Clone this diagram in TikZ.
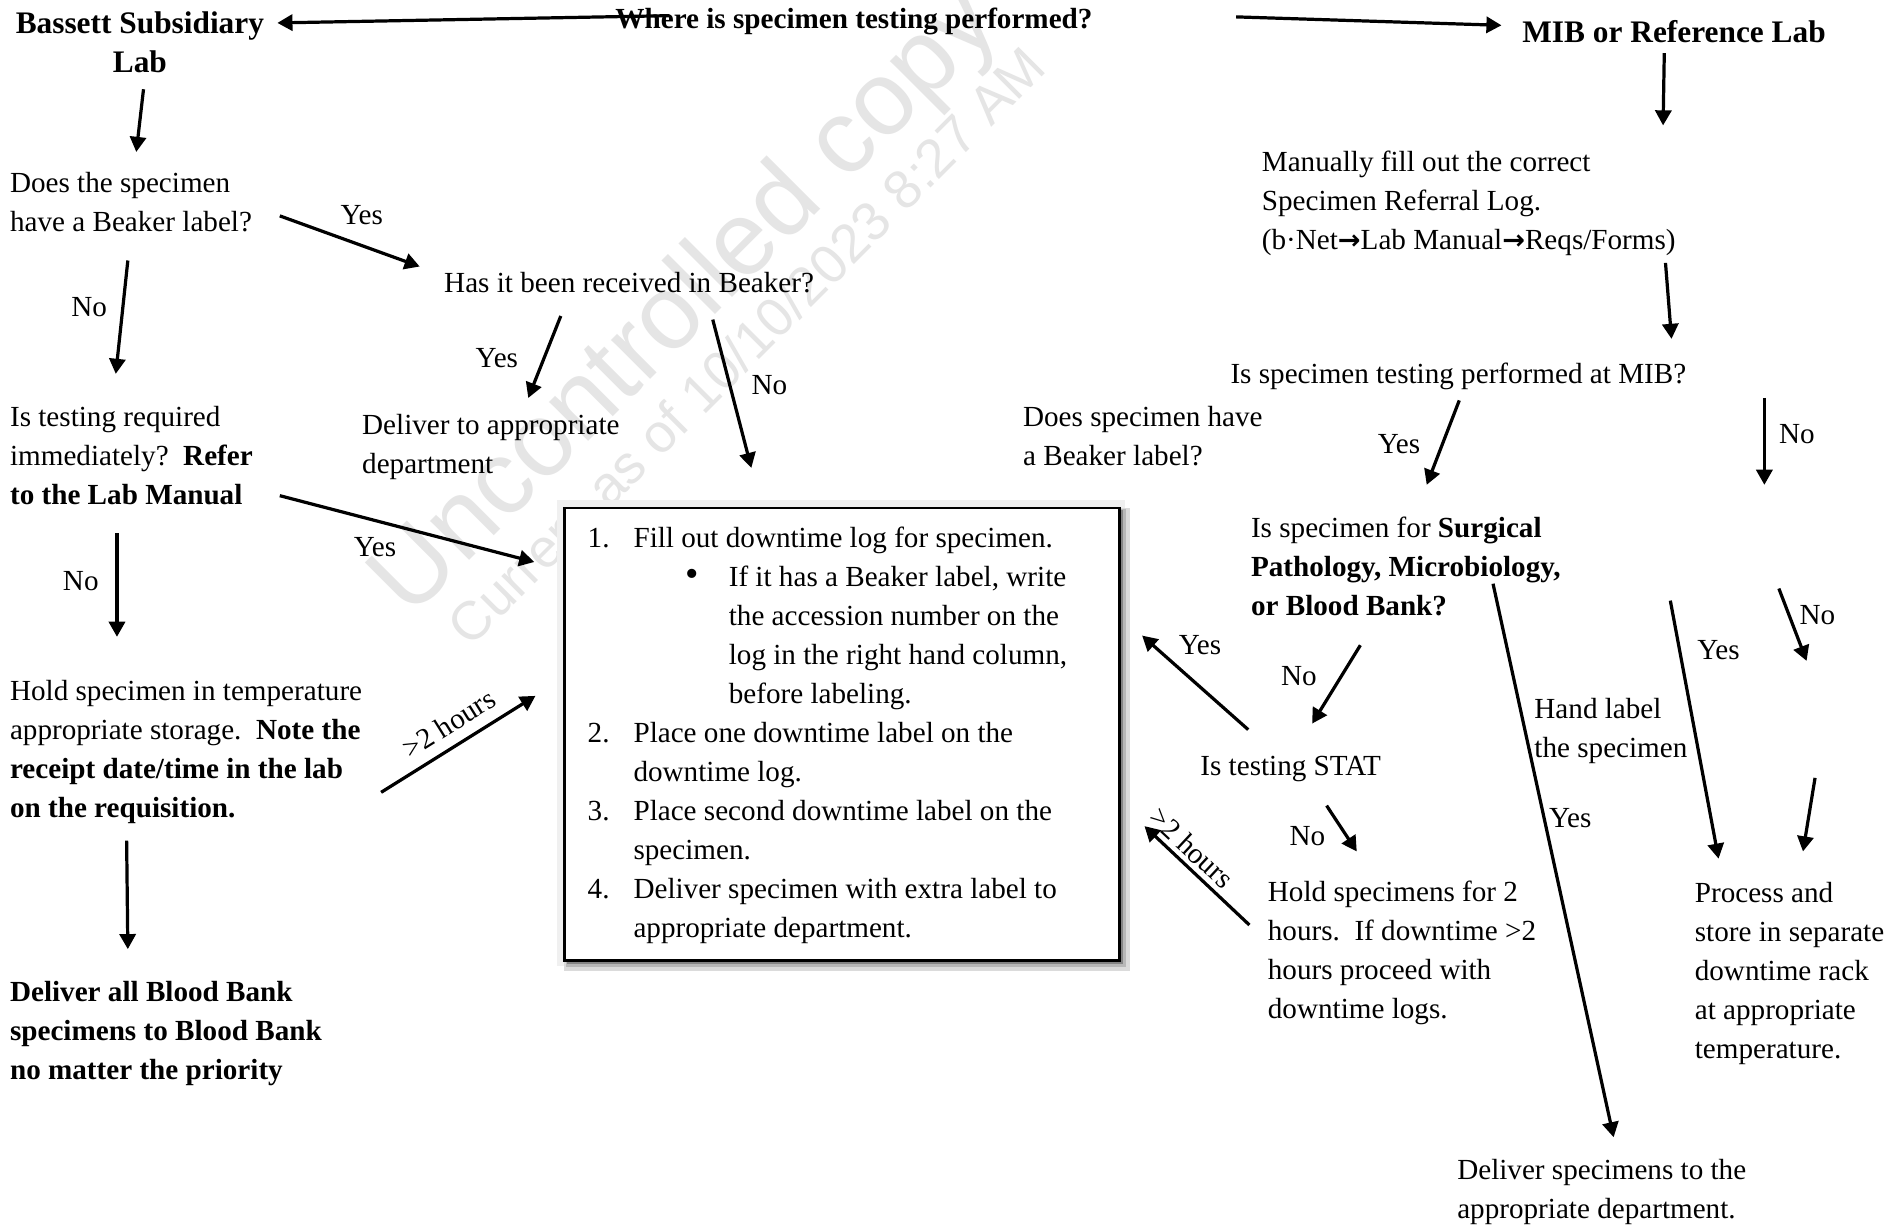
\documentclass[tikz,border=0pt]{standalone}
\usepackage{fontspec}
\setmainfont{Liberation Serif}
\newfontfamily\wmfont{Liberation Sans}
\newfontfamily\arrfont{DejaVu Sans}
\usetikzlibrary{arrows.meta}
\newcommand{\bodyfont}{\fontsize{14.5}{19.4}\selectfont}
\newcommand{\headfont}{\fontsize{15.6}{19.8}\selectfont\bfseries}
\newcommand{\rarr}{{\arrfont\bfseries\fontsize{13.5}{13.5}\selectfont →}}
\begin{document}
\begin{tikzpicture}[x=0.6pt,y=-0.6pt,
  txt/.style={anchor=north west, inner sep=0pt, align=left, font=\bodyfont},
  lbl/.style={inner sep=0pt, font=\bodyfont},
  head/.style={inner sep=0pt, font=\headfont},
  arr/.style={line width=1.6pt, -{Triangle[length=7.5pt,width=8pt]}},
  wm/.style={inner sep=0pt, anchor=base, rotate=45, text=black!10}]
\fill[white] (0,0) rectangle (1568,1016);
\useasboundingbox (0,0) rectangle (1568,1016);

% watermark
\node[wm, font=\wmfont\fontsize{52}{52}\selectfont] (wm1) at (586,268) {Uncontrolled copy};
\node[wm, font=\wmfont\fontsize{27}{27}\selectfont] (wm2) at (630,298) {Current as of 10/10/2023 8:27 AM};

% headings
\node[head, align=center, anchor=north] (bassett) at (116,9) {Bassett Subsidiary\\Lab};
\node[head, font=\bodyfont\bfseries, anchor=north west] (where) at (510,6.5) {Where is specimen testing performed?};
\node[head, anchor=north west] (mib) at (1262,17) {MIB or Reference Lab};

% left column
\node[txt] (does1) at (8,142.5) {Does the specimen\\have a Beaker label?};
\node[txt] (received) at (368,225.5) {Has it been received in Beaker?};
\node[txt] (testreq) at (8,336.5) {Is testing required\\immediately?\ \ \textbf{Refer}\\\textbf{to the Lab Manual}};
\node[txt] (deliverdept) at (300,343.5) {Deliver to appropriate\\department};
\node[txt] (hold) at (8,563.5) {Hold specimen in temperature\\appropriate storage.\ \ \textbf{Note the}\\\textbf{receipt date/time in the lab}\\\textbf{on the requisition.}};
\node[txt, font=\bodyfont\bfseries] (bb) at (8,813.5) {Deliver all Blood Bank\\specimens to Blood Bank\\no matter the priority};

% right column
\node[txt] (manual) at (1046,124.5) {Manually fill out the correct\\Specimen Referral Log.\\(b·Net\rarr Lab Manual\rarr Reqs/Forms)};
\node[txt] (mibq) at (1020,300.5) {Is specimen testing performed at MIB?};
\node[txt] (doesspec) at (848,336.5) {Does specimen have\\a Beaker label?};
\node[txt] (surg) at (1037,428.5) {Is specimen for \textbf{Surgical}\\\textbf{Pathology, Microbiology,}\\\textbf{or Blood Bank?}};
\node[txt] (stat) at (995,626.5) {Is testing STAT};
\node[txt] (hold2) at (1051,730.5) {Hold specimens for 2\\hours.\ \ If downtime >2\\hours proceed with\\downtime logs.};
\node[txt] (handlabel) at (1272,578.5) {Hand label\\the specimen};
\node[txt] (process) at (1405,731.5) {Process and\\store in separate\\downtime rack\\at appropriate\\temperature.};
\node[txt] (deliverspec) at (1208,960.5) {Deliver specimens to the\\appropriate department.};

% central box with shadow
\fill[black!6] (462,415) rectangle (933,801);
\fill[black!14] (468,421) rectangle (937,805);
\fill[black!28] (469,422) rectangle (934,802);
\fill[black!48] (470,423) rectangle (931,799);
\node[draw, line width=1.4pt, fill=white, inner sep=0pt, anchor=north west,
      minimum width=276pt, minimum height=225pt] (box) at (467,420) {};
\node[txt] (boxtext) at (487,436.5) {%
\makebox[22.8pt][l]{1.}Fill out downtime log for specimen.\\
\hspace*{48.6pt}\makebox[21.6pt][l]{\fontsize{19}{19}\selectfont •}If it has a Beaker label, write\\
\hspace*{70.2pt}the accession number on the\\
\hspace*{70.2pt}log in the right hand column,\\
\hspace*{70.2pt}before labeling.\\
\makebox[22.8pt][l]{2.}Place one downtime label on the\\
\hspace*{22.8pt}downtime log.\\
\makebox[22.8pt][l]{3.}Place second downtime label on the\\
\hspace*{22.8pt}specimen.\\
\makebox[22.8pt][l]{4.}Deliver specimen with extra label to\\
\hspace*{22.8pt}appropriate department.};

% connector end points
\coordinate (wl1) at (555,13);   \coordinate (wl2) at (230,19);
\coordinate (wr1) at (1025,14);  \coordinate (wr2) at (1245,21);
\coordinate (b1) at (119,74);    \coordinate (b2) at (113,126);
\coordinate (y1a) at (232,179);  \coordinate (y1b) at (348,221);
\coordinate (n1a) at (106,216);  \coordinate (n1b) at (96,310);
\coordinate (yra) at (465,262);  \coordinate (yrb) at (438,330);
\coordinate (nra) at (591,265);  \coordinate (nrb) at (623,388);
\coordinate (yia) at (232,411);  \coordinate (yib) at (443,466);
\coordinate (nia) at (97,442);   \coordinate (nib) at (97,528);
\coordinate (h2a) at (316,657);  \coordinate (h2b) at (444,577);
\coordinate (hda) at (105,697);  \coordinate (hdb) at (106,787);
\coordinate (ma) at (1380,44);   \coordinate (mb) at (1379,104);
\coordinate (mda) at (1381,218); \coordinate (mdb) at (1386,281);
\coordinate (mya) at (1210,332); \coordinate (myb) at (1183,402);
\coordinate (mna) at (1463,330); \coordinate (mnb) at (1463,402);
\coordinate (sya) at (1238,484); \coordinate (syb) at (1338,943);
\coordinate (sna) at (1128,535); \coordinate (snb) at (1088,600);
\coordinate (tya) at (1035,605); \coordinate (tyb) at (947,527);
\coordinate (tna) at (1100,668); \coordinate (tnb) at (1125,706);
\coordinate (tha) at (1036,767); \coordinate (thb) at (949,685);
\coordinate (hya) at (1385,498); \coordinate (hyb) at (1425,712);
\coordinate (n3a) at (1475,488); \coordinate (n3b) at (1498,548);
\coordinate (sha) at (1505,645); \coordinate (shb) at (1495,706);

% connectors
\draw[arr] (wl1) -- (wl2);
\draw[arr] (wr1) -- (wr2);
\draw[arr] (b1) -- (b2);
\draw[arr] (y1a) -- (y1b);
\draw[arr] (n1a) -- (n1b);
\draw[arr] (yra) -- (yrb);
\draw[arr] (nra) -- (nrb);
\draw[arr] (yia) -- (yib);
\draw[arr] (nia) -- (nib);
\draw[arr] (h2a) -- (h2b);
\draw[arr] (hda) -- (hdb);
\draw[arr] (ma) -- (mb);
\draw[arr] (mda) -- (mdb);
\draw[arr] (mya) -- (myb);
\draw[arr] (mna) -- (mnb);
\draw[arr] (sya) -- (syb);
\draw[arr] (sna) -- (snb);
\draw[arr] (tya) -- (tyb);
\draw[arr] (tna) -- (tnb);
\draw[arr] (tha) -- (thb);
\draw[arr] (hya) -- (hyb);
\draw[arr] (n3a) -- (n3b);
\draw[arr] (sha) -- (shb);

% labels
\node[lbl] (ly1) at (300,178) {Yes};
\node[lbl] (ln1) at (74,255) {No};
\node[lbl] (lyr) at (412,297) {Yes};
\node[lbl] (lnr) at (638,319) {No};
\node[lbl] (lyi) at (311,454) {Yes};
\node[lbl] (lni) at (67,482) {No};
\node[lbl, rotate=32] (lh2) at (372,600) {>2 hours};
\node[lbl] (lmy) at (1160,368) {Yes};
\node[lbl] (lmn) at (1490,360) {No};
\node[lbl] (lsy) at (1302,678) {Yes};
\node[lbl] (lsn) at (1077,561) {No};
\node[lbl] (lty) at (995,535) {Yes};
\node[lbl] (ltn) at (1084,693) {No};
\node[lbl, rotate=-43] (lth) at (988,703) {>2 hours};
\node[lbl] (lhy) at (1425,539) {Yes};
\node[lbl] (ln3) at (1507,510) {No};
\end{tikzpicture}
\end{document}
